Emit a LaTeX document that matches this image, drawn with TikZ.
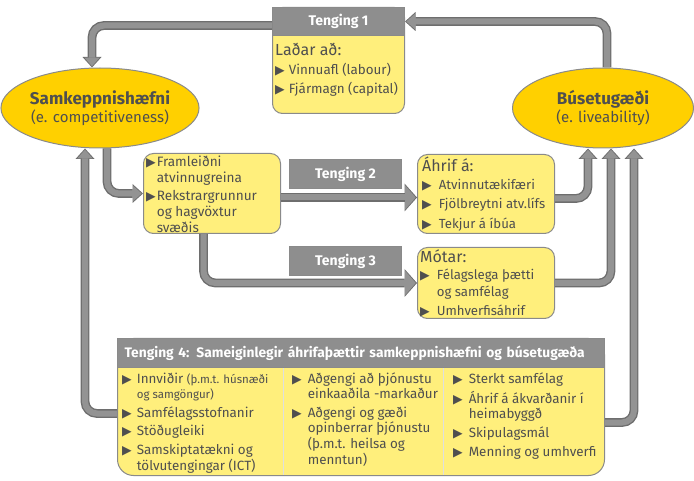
\documentclass[tikz,border=0pt]{standalone}
\usepackage{fontspec}
\setmainfont{Fira Sans}
\newfontfamily\symfont{DejaVu Sans}
\usetikzlibrary{shapes.geometric,arrows.meta}

\definecolor{gold}{HTML}{FFD000}
\definecolor{paleyellow}{HTML}{FFEF7C}
\definecolor{linegray}{HTML}{8A8A8A}
\definecolor{headgray}{HTML}{8E8E8E}
\definecolor{ribbongray}{HTML}{939393}
\definecolor{ribbondark}{HTML}{6E6E6E}
\definecolor{txtgray}{HTML}{4F4F4F}

\newcommand\blt{{\symfont\fontsize{12.5}{10}\selectfont ▶}}

\tikzset{
  ellip/.style={ellipse, draw=linegray, line width=1pt, fill=gold, text=txtgray,
    align=center, inner sep=0pt},
  ybox/.style={draw=linegray, line width=1pt, fill=paleyellow, rounded corners=10pt,
    inner sep=0pt, anchor=north west},
  hbox/.style={draw=linegray, line width=1pt, fill=headgray, text=white,
    font=\bfseries\fontsize{14}{16}\selectfont, inner sep=0pt, anchor=north west},
  txt/.style={text=txtgray, inner sep=0pt, anchor=north west, align=left},
  divider/.style={draw=white!75!gray, line width=0.8pt},
  ribbonbase/.style={draw=ribbongray, line width=6pt, rounded corners=12pt, shorten >=1.3pt},
  ribbon/.style={ribbonbase, -{Triangle[length=8.5pt,width=15pt,line width=0pt]},
    preaction={draw=ribbondark, line width=8.8pt, shorten >=0pt,
      -{Triangle[length=10.5pt,width=19pt,line width=0pt]}}},
  bigribbon/.style={ribbonbase, -{Triangle[length=10.5pt,width=24pt,line width=0pt]},
    preaction={draw=ribbondark, line width=8.8pt, shorten >=0pt,
      -{Triangle[length=12.5pt,width=28pt,line width=0pt]}}},
}

\begin{document}
\begin{tikzpicture}[x=1pt, y=-1pt]
\useasboundingbox (0,0) rectangle (694,481);

% the two goals
\node[ellip, minimum width=186pt, minimum height=80pt] (comp) at (100,108)
  {{\bfseries\fontsize{17}{19}\selectfont Samkeppnishæfni}\\
   {\fontsize{15}{17}\selectfont (e. competitiveness)}};
\node[ellip, minimum width=181pt, minimum height=80pt] (live) at (603,108)
  {{\bfseries\fontsize{17}{19}\selectfont Búsetugæði}\\
   {\fontsize{15}{17}\selectfont (e. liveability)}};

% Tenging 1
\node[ybox, minimum width=132pt, minimum height=106pt] (t1) at (272,7) {};
\node[hbox, minimum width=132pt, minimum height=28pt] (t1h) at (272,7) {Tenging 1};
\node[txt] (t1txt) at (275,43)
  {{\fontsize{16}{18}\selectfont Laðar að:}\\[4pt]
   \fontsize{13.4}{19}\selectfont
   \begin{tabular}{@{}l@{\hspace{4pt}}l@{}}
     \blt & Vinnuafl (labour)\\
     \blt & Fjármagn (capital)
   \end{tabular}};

% Tenging 2 and 3
\node[ybox, minimum width=137pt, minimum height=80pt] (fram) at (143,153) {};
\node[txt] (framtxt) at (146,155)
  {\fontsize{13.6}{16}\selectfont
   \begin{tabular}{@{}l@{\hspace{1pt}}l@{}}
     \blt & Framleiðni\\
          & atvinnugreina\\[2pt]
     \blt & Rekstrargrunnur\\
          & og hagvöxtur\\
          & svæðis
   \end{tabular}};
\node[hbox, minimum width=112pt, minimum height=29pt] (lab2) at (289,159) {Tenging 2};
\node[hbox, minimum width=112pt, minimum height=29pt] (lab3) at (289,246) {Tenging 3};

\node[ybox, minimum width=137pt, minimum height=79pt] (ahrif) at (417,154) {};
\node[txt] (ahriftxt) at (422,157)
  {{\fontsize{16}{18}\selectfont Áhrif á:}\\[3pt]
   \fontsize{13.2}{19.3}\selectfont
   \begin{tabular}{@{}l@{\hspace{7pt}}l@{}}
     \blt & Atvinnutækifæri\\
     \blt & Fjölbreytni atv.lífs\\
     \blt & Tekjur á íbúa
   \end{tabular}};

\node[ybox, minimum width=137pt, minimum height=71pt] (motar) at (417,247) {};
\node[txt] (motartxt) at (420,249)
  {{\fontsize{16}{18}\selectfont Mótar:}\\[5pt]
   \fontsize{13.2}{16.5}\selectfont
   \begin{tabular}{@{}l@{\hspace{7pt}}l@{}}
     \blt & Félagslega þætti\\
          & og samfélag\\[2.5pt]
     \blt & Umhverfisáhrif
   \end{tabular}};

% Tenging 4
\node[ybox, rounded corners=16pt, minimum width=487pt, minimum height=137pt] (t4) at (117,338) {};
\draw[divider] (283,367) -- (283,475);
\draw[divider] (443,367) -- (443,475);
\node[hbox, minimum width=487pt, minimum height=29pt, text width=473pt, align=left,
  font=\bfseries\fontsize{13.8}{16}\selectfont]
  (t4h) at (117,338) {Tenging 4: Sameiginlegir áhrifaþættir samkeppnishæfni og búsetugæða};

\node[txt] (col1) at (122,372)
  {\fontsize{13.4}{15.5}\selectfont
   \begin{tabular}{@{}l@{\hspace{5pt}}l@{}}
     \blt & Innviðir {\fontsize{11.5}{12}\selectfont (þ.m.t. húsnæði}\\
          & {\fontsize{11.5}{12}\selectfont og samgöngur)}\\[3pt]
     \blt & Samfélagsstofnanir\\[3pt]
     \blt & Stöðugleiki\\[3pt]
     \blt & Samskiptatækni og\\
          & tölvutengingar (ICT)
   \end{tabular}};
\node[txt] (col2) at (292,372)
  {\fontsize{13.4}{15.5}\selectfont
   \begin{tabular}{@{}l@{\hspace{6pt}}l@{}}
     \blt & Aðgengi að þjónustu\\
          & einkaaðila -markaður\\[3pt]
     \blt & Aðgengi og gæði\\
          & opinberrar þjónustu\\
          & (þ.m.t. heilsa og\\
          & menntun)
   \end{tabular}};
\node[txt] (col3) at (453,372)
  {\fontsize{13.4}{15.5}\selectfont
   \begin{tabular}{@{}l@{\hspace{6pt}}l@{}}
     \blt & Sterkt samfélag\\[3.5pt]
     \blt & Áhrif á ákvarðanir í\\
          & heimabyggð\\[3pt]
     \blt & Skipulagsmál\\[3.5pt]
     \blt & Menning og umhverfi
   \end{tabular}};

% connectors
\draw[ribbon] ([xshift=4pt]live.north) |- (t1h.east);
\draw[ribbon] ([yshift=-4pt]t1h.west) -| ([xshift=-8pt]comp.north);
\draw[ribbon] ([xshift=7pt]comp.south) |- (fram.west);
\draw[bigribbon] ([yshift=-4pt]fram.east) -- ([yshift=-4pt]fram.east -| ahrif.west);
\draw[bigribbon] ([xshift=-8.5pt]fram.south) |- (motar.west);
\draw[ribbon] ([yshift=-4.5pt]ahrif.east) -| ([xshift=-15pt]live.south);
\draw[ribbon] (motar.east) -| ([xshift=8pt]live.south);
\draw[ribbon] ([yshift=-15.5pt]t4.east) -| ([xshift=31pt]live.south);
\draw[ribbon] ([yshift=-6.5pt]t4.west) -| ([xshift=-15pt]comp.south);
\end{tikzpicture}
\end{document}
